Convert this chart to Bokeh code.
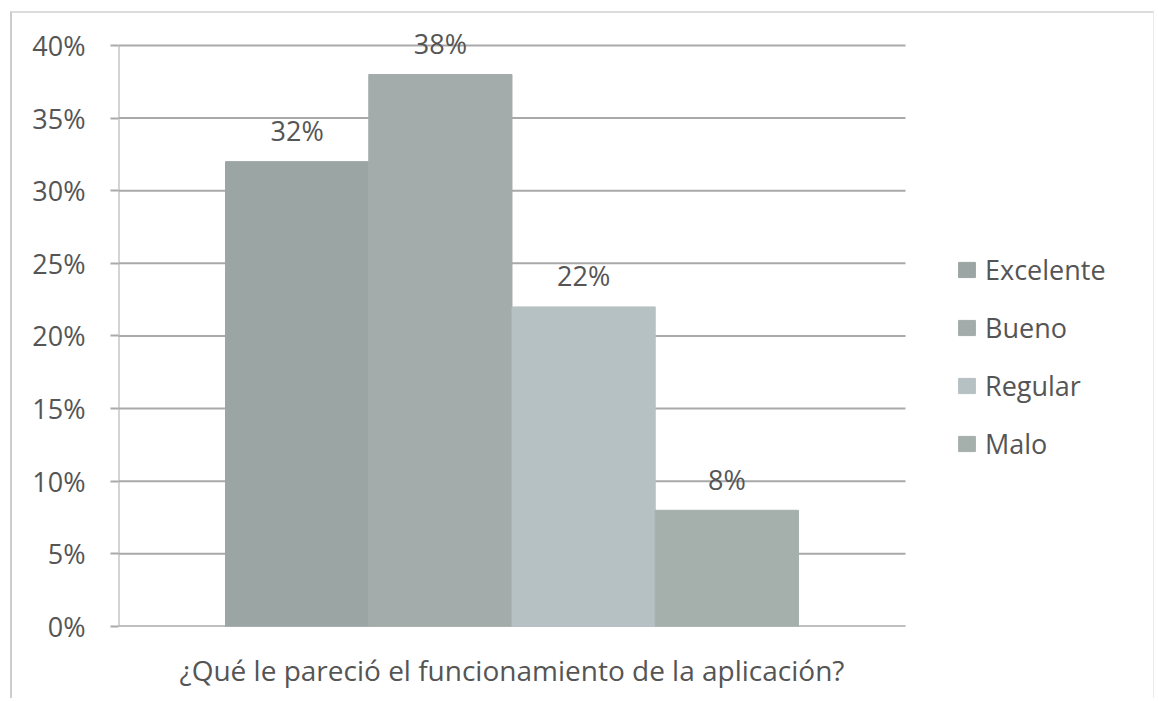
from bokeh.plotting import figure
from bokeh.models import (ColumnDataSource, NumeralTickFormatter, Legend, LegendItem,
                          FixedTicker, Range1d)
from bokeh.core.properties import value
from bokeh.embed import file_html
from bokeh.resources import INLINE

question = "¿Qué le pareció el funcionamiento de la aplicación?"
categories = ["Excelente", "Bueno", "Regular", "Malo"]
values = [0.32, 0.38, 0.22, 0.08]
labels = ["32%", "38%", "22%", "8%"]
colors = ["#9ba5a3", "#a3acaa", "#b6c1c3", "#a5b0ad"]
y_ticks = [0, 0.05, 0.10, 0.15, 0.20, 0.25, 0.30, 0.35, 0.40]

FONT = "Open Sans"
TXT = "#555555"
GRID = "#a9a9a9"

p = figure(width=1144, height=687, output_backend="svg", toolbar_location=None,
           x_range=Range1d(0, 1.3126), y_range=Range1d(0, 0.4151))
p.min_border_left = 106
p.min_border_top = 10
p.min_border_right = 5
p.min_border_bottom = 74
p.outline_line_color = None
p.styles = {"border-left": "2px solid #cdcdcd", "border-top": "2px solid #dcdcdc",
            "border-right": "1px solid #ececec", "margin-left": "10px", "margin-top": "11px"}

# gridlines across the category extent (0..1)
p.segment(x0=[0] * len(y_ticks), x1=[1] * len(y_ticks), y0=y_ticks, y1=y_ticks,
          line_color=GRID, line_width=2)
# axis lines
p.segment(x0=[0], x1=[0], y0=[0], y1=[y_ticks[-1]], line_color=GRID, line_width=2)
p.segment(x0=[0], x1=[1], y0=[0], y1=[0], line_color=GRID, line_width=2)

bar_w = 0.182
items = []
for i, cat in enumerate(categories):
    bx = 0.5 + (i - 1.5) * bar_w
    src = ColumnDataSource(dict(x=[bx], v=[values[i]], lbl=[labels[i]]))
    r = p.vbar(x="x", top="v", width=bar_w, source=src,
               fill_color=colors[i], line_color=colors[i])
    p.text(x="x", y="v", text="lbl", source=src,
           text_align="center", text_baseline="middle", y_offset=-31,
           text_font=value(FONT), text_font_size="27px", text_color=TXT)
    items.append(LegendItem(label=cat, renderers=[r]))

legend = Legend(items=items, location=(838, 164), padding=0, margin=0,
                border_line_color=None, background_fill_alpha=0,
                glyph_width=21, glyph_height=19, label_standoff=8,
                label_text_font=FONT, label_text_font_size="27px",
                label_text_color=TXT, spacing=21, label_height=24)
p.add_layout(legend, "center")

# Axes
p.yaxis.ticker = FixedTicker(ticks=y_ticks)
p.yaxis.formatter = NumeralTickFormatter(format="0%")
p.yaxis.axis_line_color = None
p.yaxis.major_tick_line_color = GRID
p.yaxis.major_tick_line_width = 2
p.yaxis.major_tick_out = 8
p.yaxis.major_tick_in = 0
p.yaxis.minor_tick_line_color = None
p.yaxis.major_label_standoff = 25
p.yaxis.major_label_text_font = FONT
p.yaxis.major_label_text_font_size = "27px"
p.yaxis.major_label_text_color = TXT

p.xaxis.ticker = FixedTicker(ticks=[0.5])
p.xaxis.major_label_overrides = {0.5: question}
p.xaxis.axis_line_color = None
p.xaxis.major_tick_line_color = None
p.xaxis.minor_tick_line_color = None
p.xaxis.major_label_standoff = 18
p.xaxis.major_label_text_font = FONT
p.xaxis.major_label_text_font_size = "28px"
p.xaxis.major_label_text_color = TXT

p.xgrid.grid_line_color = None
p.ygrid.grid_line_color = None

open("out.html", "w").write(file_html(p, INLINE))
